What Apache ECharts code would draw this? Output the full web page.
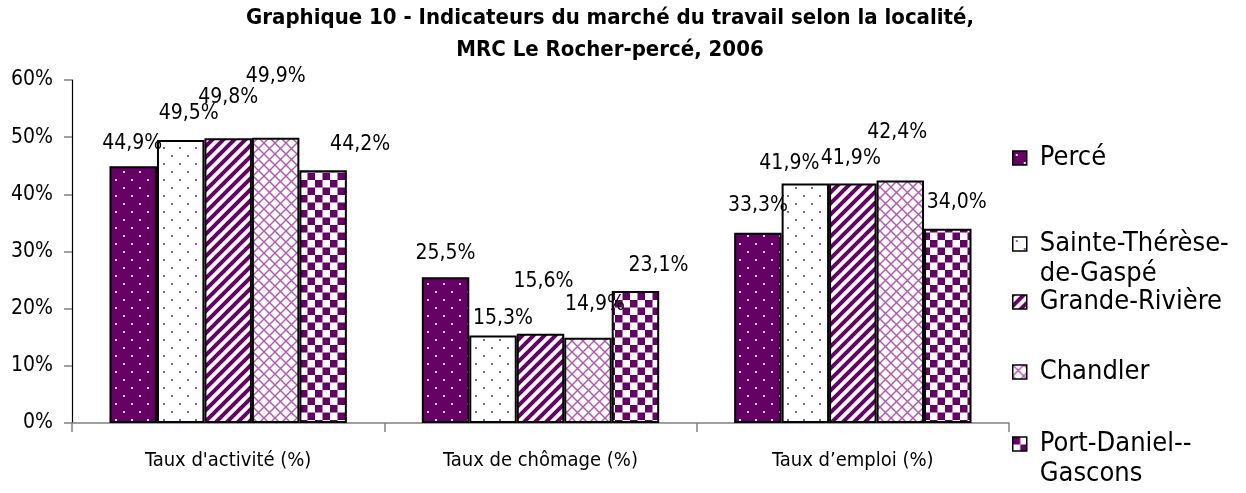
<!DOCTYPE html>
<html>
<head>
<meta charset="utf-8">
<script src="https://cdn.jsdelivr.net/npm/echarts@6/dist/echarts.min.js"></script>
<style>
  html, body { margin: 0; padding: 0; background: #fff; }
  #chart { width: 1246px; height: 493px; }
</style>
</head>
<body>
<div id="chart"></div>
<script>
var categories = ["Taux d'activité (%)", 'Taux de chômage (%)', 'Taux d\u2019emploi (%)'];
var localites = ['Percé', 'Sainte-Thérèse-de-Gaspé', 'Grande-Rivière', 'Chandler', 'Port-Daniel--Gascons'];
var perce = [44.9, 25.5, 33.3];
var sainteTherese = [49.5, 15.3, 41.9];
var grandeRiviere = [49.8, 15.6, 41.9];
var chandler = [49.9, 14.9, 42.4];
var portDaniel = [44.2, 23.1, 34.0];
var yTicks = [0, 10, 20, 30, 40, 50, 60];

// decalage des etiquettes (comme dans l'original Excel) : [dx, dy] par categorie
var labelShift = [
    [[-1, -23], [0, -24], [0, -27]],
    [[8, -26], [10, -17], [-16, -20]],
    [[0, -41], [3, -52], [-2, -25]],
    [[0, -61], [7, -33], [-3, -48]],
    [[37, -26], [23, -25], [9, -26]]
];

var FONT = '"Liberation Sans Narrow", "DejaVu Sans Condensed", sans-serif';
var PURPLE = '#660066';

function tile(size, draw) {
    var c = document.createElement('canvas');
    c.width = c.height = size;
    var ctx = c.getContext('2d');
    draw(ctx, size);
    return { image: c, repeat: 'repeat' };
}

// motifs des barres
var patterns = [
    tile(16, function (ctx, s) {
        ctx.fillStyle = PURPLE; ctx.fillRect(0, 0, s, s);
        ctx.fillStyle = '#f0d8f0';
        ctx.fillRect(3, 3, 2, 2); ctx.fillRect(11, 11, 2, 2);
    }),
    tile(16, function (ctx, s) {
        ctx.fillStyle = '#fff'; ctx.fillRect(0, 0, s, s);
        ctx.fillStyle = '#a050a0';
        ctx.fillRect(3, 3, 2, 2); ctx.fillRect(11, 11, 2, 2);
    }),
    tile(11, function (ctx, s) {
        ctx.fillStyle = '#fff'; ctx.fillRect(0, 0, s, s);
        ctx.strokeStyle = PURPLE; ctx.lineWidth = 4;
        ctx.beginPath();
        for (var k = -1; k <= 1; k++) {
            ctx.moveTo(k * s - 2, s + 2); ctx.lineTo(k * s + s + 2, -2);
        }
        ctx.stroke();
    }),
    tile(11, function (ctx, s) {
        ctx.fillStyle = '#fff'; ctx.fillRect(0, 0, s, s);
        ctx.strokeStyle = '#b455b4'; ctx.lineWidth = 1.4;
        ctx.beginPath();
        ctx.moveTo(0, 0); ctx.lineTo(s, s);
        ctx.moveTo(s, 0); ctx.lineTo(0, s);
        ctx.stroke();
    }),
    tile(15, function (ctx, s) {
        ctx.fillStyle = '#fff'; ctx.fillRect(0, 0, s, s);
        ctx.fillStyle = PURPLE;
        ctx.fillRect(0, 0, 7.5, 7.5); ctx.fillRect(7.5, 7.5, 7.5, 7.5);
    })
];

var seriesData = [perce, sainteTherese, grandeRiviere, chandler, portDaniel];
var legendLines = {
    'Sainte-Thérèse-de-Gaspé': ['Sainte-Thérèse-', 'de-Gaspé'],
    'Port-Daniel--Gascons': ['Port-Daniel--', 'Gascons']
};
var legendCenters = [158, 244, 302, 372, 444];
var LH = 30;

function fmtPct(v) {
    return v.toFixed(1).replace('.', ',') + '%';
}

var myChart = echarts.init(document.getElementById('chart'));
myChart.setOption({
    backgroundColor: '#fff',
    animation: false,
    title: {
        text: 'Graphique 10 - Indicateurs du marché du travail selon la localité,\nMRC Le Rocher-percé, 2006',
        left: 610,
        top: 2,
        padding: 0,
        textAlign: 'center',
        textStyle: {
            fontFamily: FONT,
            fontWeight: 'bold',
            fontSize: 22,
            lineHeight: 32,
            color: '#000'
        }
    },
    legend: localites.map(function (name, i) {
        var lines = legendLines[name];
        return {
            data: [name],
            orient: 'vertical',
            left: 1012,
            top: legendCenters[i] - (lines ? 1.5 * LH : LH / 2),
            padding: 0,
            itemWidth: 14,
            itemHeight: 14,
            itemGap: 0,
            icon: 'rect',
            selectedMode: false,
            formatter: function (n) {
                var l = legendLines[n];
                if (l) {
                    return ' \n{t|' + l[0] + '}\n{t|' + l[1] + '}';
                }
                return '{t|' + n + '}';
            },
            itemStyle: { borderColor: '#000', borderWidth: 1.5 },
            textStyle: {
                fontFamily: FONT,
                fontSize: 27,
                lineHeight: LH,
                color: '#000',
                rich: {
                    t: {
                        fontFamily: FONT,
                        fontSize: 27,
                        lineHeight: LH,
                        color: '#000',
                        padding: [0, 0, 0, 8]
                    }
                }
            }
        };
    }),
    grid: {
        left: 72,
        right: 237,
        top: 80,
        bottom: 70
    },
    xAxis: {
        type: 'category',
        data: categories,
        axisLine: { lineStyle: { color: '#808080', width: 1.5 } },
        axisTick: { show: true, length: 9, lineStyle: { color: '#808080', width: 1.5 } },
        axisLabel: {
            margin: 28,
            fontFamily: FONT,
            fontSize: 20,
            color: '#000'
        }
    },
    yAxis: {
        type: 'value',
        min: yTicks[0],
        max: yTicks[yTicks.length - 1],
        interval: 10,
        splitLine: { show: false },
        axisLine: { show: true, lineStyle: { color: '#000', width: 1.2 } },
        axisTick: { show: true, length: 8, lineStyle: { color: '#808080', width: 1.5 } },
        axisLabel: {
            formatter: '{value}%',
            margin: 19,
            fontFamily: FONT,
            fontSize: 21,
            color: '#000'
        }
    },
    series: localites.map(function (name, i) {
        return {
            name: name,
            type: 'bar',
            barGap: '0%',
            barCategoryGap: '24%',
            itemStyle: {
                color: patterns[i],
                borderColor: '#000',
                borderWidth: 2
            },
            data: seriesData[i].map(function (v, j) {
                var sh = labelShift[i][j];
                return {
                    value: v,
                    label: { offset: [sh[0], sh[1] + 11] }
                };
            }),
            label: {
                show: true,
                position: 'top',
                distance: 0,
                lineHeight: 22,
                fontFamily: FONT,
                fontSize: 21,
                color: '#000',
                formatter: function (p) {
                    return fmtPct(p.value);
                }
            }
        };
    })
});
</script>
</body>
</html>
